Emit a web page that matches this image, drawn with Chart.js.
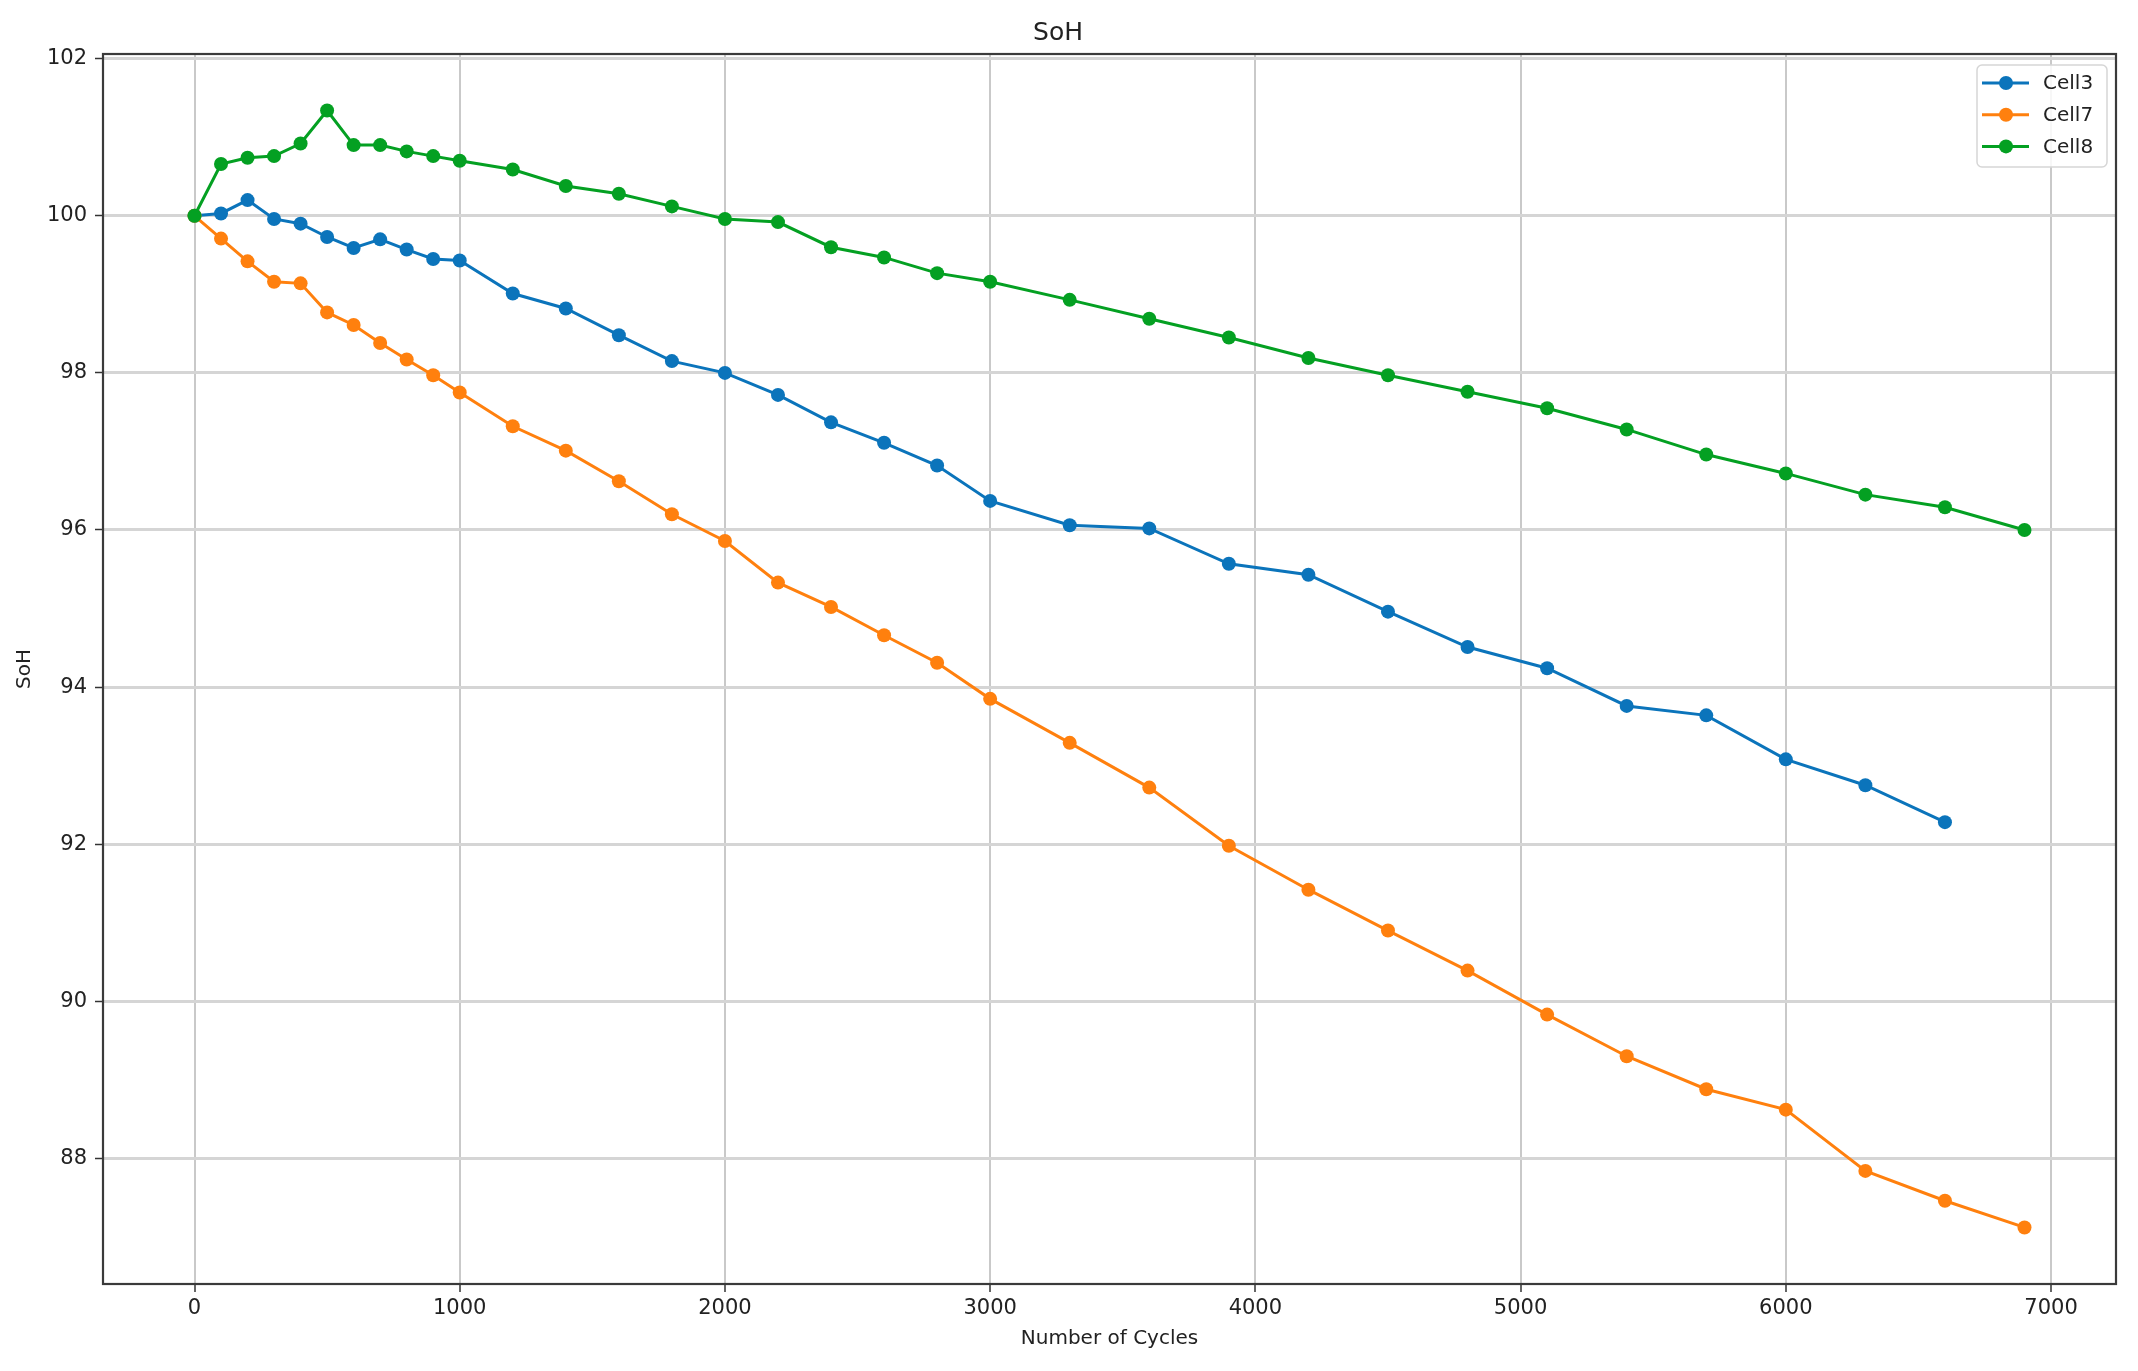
<!DOCTYPE html>
<html>
<head>
<meta charset="utf-8">
<script src="https://cdn.jsdelivr.net/npm/chart.js@4/dist/chart.umd.min.js"></script>
<style>
  html, body { margin: 0; padding: 0; background: #fff; }
  #wrap { width: 2138px; height: 1371px; }
</style>
</head>
<body>
<div id="wrap"><canvas id="myChart" width="2138" height="1371"></canvas></div>
<script>
// cycle counts (x) for each cell
const cycles = [0, 100, 200, 300, 400, 500, 600, 700, 800, 900, 1000,
    1200, 1400, 1600, 1800, 2000, 2200, 2400, 2600, 2800,
    3000, 3300, 3600, 3900, 4200, 4500, 4800, 5100, 5400, 5700, 6000, 6300, 6600, 6900];

// SoH values
const cell3 = [100, 100.03, 100.2, 99.96, 99.9, 99.73, 99.59, 99.7, 99.57, 99.45, 99.43,
    99.01, 98.82, 98.48, 98.15, 98.0, 97.72, 97.37, 97.11, 96.82,
    96.37, 96.06, 96.02, 95.57, 95.43, 94.96, 94.51, 94.24, 93.76, 93.64, 93.08, 92.75, 92.28];
const cell7 = [100, 99.71, 99.42, 99.16, 99.14, 98.77, 98.61, 98.38, 98.17, 97.97, 97.75,
    97.32, 97.01, 96.62, 96.2, 95.86, 95.33, 95.02, 94.66, 94.31,
    93.85, 93.29, 92.72, 91.98, 91.42, 90.9, 90.39, 89.83, 89.3, 88.88, 88.62, 87.84, 87.46, 87.12];
const cell8 = [100, 100.66, 100.74, 100.76, 100.92, 101.34, 100.9, 100.9, 100.82, 100.76, 100.7,
    100.59, 100.38, 100.28, 100.12, 99.96, 99.92, 99.6, 99.47, 99.27,
    99.16, 98.93, 98.69, 98.45, 98.19, 97.97, 97.76, 97.55, 97.28, 96.96, 96.72, 96.45, 96.29, 96.0];

const seriesNames = ['Cell3', 'Cell7', 'Cell8'];
const seriesColors = ['#0b74bb', '#ff800e', '#04a022'];

const xTicks = [0, 1000, 2000, 3000, 4000, 5000, 6000, 7000];
const yTicks = [88, 90, 92, 94, 96, 98, 100, 102];

const FONT = "'DejaVu Sans', sans-serif";
Chart.defaults.font.family = FONT;
Chart.defaults.color = '#222';

function toPoints(vals) {
    return vals.map((v, i) => ({x: cycles[i], y: v}));
}

const allSeries = [cell3, cell7, cell8];
const datasets = allSeries.map((vals, i) => ({
    label: seriesNames[i],
    data: toPoints(vals),
    borderColor: seriesColors[i],
    backgroundColor: seriesColors[i],
    pointBackgroundColor: seriesColors[i],
    pointBorderColor: seriesColors[i],
    borderWidth: 3,
    pointRadius: 7,
    pointBorderWidth: 0,
    fill: false,
    tension: 0,
    order: allSeries.length - i   // later series drawn on top, like matplotlib
}));

// axes frame (all four spines)
const framePlugin = {
    id: 'frame',
    afterDraw(chart) {
        const a = chart.chartArea;
        const c = chart.ctx;
        c.save();
        c.strokeStyle = '#3a3a3a';
        c.lineWidth = 2.2;
        c.strokeRect(a.left, a.top, a.right - a.left, a.bottom - a.top);
        c.restore();
    }
};

// matplotlib style legend inside upper right
const boxLegend = {
    id: 'boxLegend',
    afterDraw(chart) {
        const c = chart.ctx;
        const a = chart.chartArea;
        const w = 130, h = 102;
        const x = a.right - 9 - w, y = a.top + 11;
        c.save();
        c.fillStyle = 'rgba(255,255,255,0.85)';
        c.strokeStyle = '#d6d6d6';
        c.lineWidth = 1.5;
        c.beginPath();
        c.roundRect(x, y, w, h, 5);
        c.fill();
        c.stroke();
        c.font = '20px ' + FONT;
        c.textBaseline = 'middle';
        chart.data.datasets.forEach((ds, i) => {
            const ry = y + 18 + i * 31.7;
            c.strokeStyle = ds.borderColor;
            c.lineWidth = 3;
            c.beginPath();
            c.moveTo(x + 5, ry);
            c.lineTo(x + 52, ry);
            c.stroke();
            c.fillStyle = ds.borderColor;
            c.beginPath();
            c.arc(x + 29, ry, 7, 0, Math.PI * 2);
            c.fill();
            c.fillStyle = '#222';
            c.fillText(ds.label, x + 66, ry + 1);
        });
        c.restore();
    }
};

const config = {
    type: 'line',
    data: { datasets: datasets },
    options: {
        responsive: false,
        animation: false,
        layout: { padding: { left: 0, right: 22, top: 0, bottom: 0 } },
        plugins: {
            legend: { display: false },
            tooltip: { enabled: false },
            title: {
                display: true,
                text: 'SoH',
                color: '#222',
                font: { size: 25, weight: 'normal' },
                padding: { top: 18, bottom: 6 }
            }
        },
        scales: {
            x: {
                type: 'linear',
                min: -345,
                max: 7245,
                afterBuildTicks(scale) { scale.ticks = xTicks.map(v => ({value: v})); },
                afterFit(scale) { scale.height = 87; },
                ticks: { font: { size: 21 }, color: '#222', padding: 4, maxRotation: 0,
                    callback: v => String(v) },
                grid: { color: '#c9c9c9', lineWidth: 2, tickLength: 8, tickColor: '#333', tickWidth: 1.5 },
                border: { display: false },
                title: { display: true, text: 'Number of Cycles', color: '#222',
                    font: { size: 20 }, padding: { top: 4, bottom: 20 } }
            },
            y: {
                min: 86.4,
                max: 102.06,
                afterBuildTicks(scale) { scale.ticks = yTicks.map(v => ({value: v})); },
                afterFit(scale) { scale.width = 103; },
                ticks: { font: { size: 21 }, color: '#222', padding: 8,
                    callback: v => String(v) },
                grid: { color: '#d5d5d5', lineWidth: 3, tickLength: 8, tickColor: '#333', tickWidth: 1.5 },
                border: { display: false },
                title: { display: true, text: 'SoH', color: '#222',
                    font: { size: 20 }, padding: { top: 13, bottom: 0 } }
            }
        }
    },
    plugins: [framePlugin, boxLegend]
};

var ctx = document.getElementById('myChart').getContext('2d');
var myChart = new Chart(ctx, config);
</script>
</body>
</html>
